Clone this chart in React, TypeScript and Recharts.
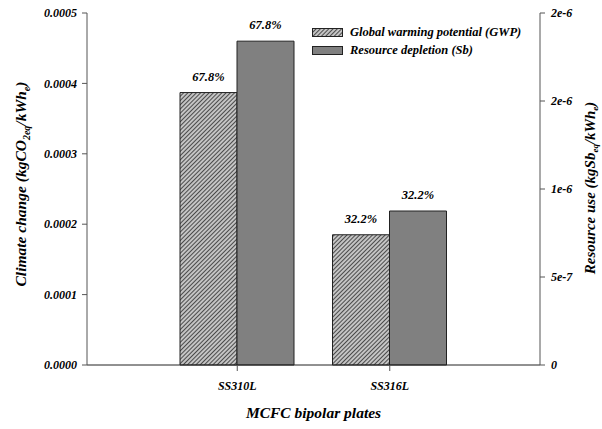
import { Bar, BarChart, LabelList, XAxis, YAxis } from "recharts";

const plates = ["SS310L", "SS316L"];
const gwpValues = [0.000387, 0.000185];
const sbValues = [1.84e-6, 8.75e-7];
const gwpShare = ["67.8%", "32.2%"];
const sbShare = ["67.8%", "32.2%"];
const leftTicks = [0, 0.0001, 0.0002, 0.0003, 0.0004, 0.0005];
const rightTicks = [0, 5e-7, 1e-6, 1.5e-6, 2e-6];
const rightTickLabels = ["0", "5e-7", "1e-6", "2e-6", "2e-6"];

const data = plates.map((plate, i) => ({
  plate,
  gwp: gwpValues[i],
  sb: sbValues[i],
  gwpShare: gwpShare[i],
  sbShare: sbShare[i],
}));

const font = "'Liberation Serif', 'DejaVu Serif', serif";
const tickStyle = {
  fill: "#000",
  fontFamily: font,
  fontWeight: 700,
  fontStyle: "italic" as const,
  fontSize: 12,
};
const axisColor = "#555";

function LegendBox() {
  const row = { display: "flex", alignItems: "center", height: 17.5 };
  const text = {
    fontFamily: font,
    fontWeight: 700,
    fontStyle: "italic" as const,
    fontSize: 12.5,
    marginLeft: 7,
    color: "#000",
    whiteSpace: "nowrap" as const,
  };
  return (
    <div style={{ position: "absolute", left: 312, top: 24 }}>
      <div style={row}>
        <svg width={31} height={9}>
          <rect x={0.5} y={0.5} width={30} height={8} fill="url(#gwp-hatch)" stroke="#222" />
        </svg>
        <span style={text}>Global warming potential (GWP)</span>
      </div>
      <div style={row}>
        <svg width={31} height={9}>
          <rect x={0.5} y={0.5} width={30} height={8} fill="#808080" stroke="#222" />
        </svg>
        <span style={text}>Resource depletion (Sb)</span>
      </div>
    </div>
  );
}

const labelText = {
  fontFamily: font,
  fontWeight: 700,
  fontStyle: "italic" as const,
  fontSize: 15.5,
  fill: "#000",
};

export default function App() {
  return (
    <div style={{ position: "absolute", left: 0, top: 0, width: 602, height: 429, background: "#fff" }}>
      <svg width={0} height={0} style={{ position: "absolute" }}>
        <defs>
          <pattern id="gwp-hatch" width={3} height={3} patternUnits="userSpaceOnUse" patternTransform="rotate(45)">
            <rect width={3} height={3} fill="#c4c4c4" />
            <line x1={0} y1={0} x2={0} y2={3} stroke="#222" strokeWidth={1.5} />
          </pattern>
        </defs>
      </svg>
      <BarChart
        width={602}
        height={429}
        data={data}
        barGap={0}
        barSize={57}
        margin={{ top: 13, right: 2, left: 0, bottom: 0 }}
      >
        <XAxis
          dataKey="plate"
          height={64}
          padding={{ left: 74, right: 74 }}
          tickSize={6}
          tickMargin={10}
          stroke={axisColor}
          axisLine={{ stroke: "#222" }}
          tick={tickStyle}
          label={({ viewBox }: any) => (
            <text x={viewBox.x + viewBox.width / 2} y={418} textAnchor="middle" style={labelText}>
              MCFC bipolar plates
            </text>
          )}
        />
        <XAxis
          xAxisId="top"
          dataKey="plate"
          orientation="top"
          height={0}
          tick={false}
          tickLine={false}
          stroke={axisColor}
        />
        <YAxis
          yAxisId="left"
          width={87}
          domain={[0, 0.0005]}
          ticks={leftTicks}
          interval={0}
          tickSize={5}
          tickMargin={5}
          stroke={axisColor}
          tick={tickStyle}
          tickFormatter={(v: number) => v.toFixed(4)}
          label={({ viewBox }: any) => {
            const cx = 26;
            const cy = viewBox.y + viewBox.height / 2 - 5;
            return (
              <text x={cx} y={cy} transform={`rotate(-90 ${cx} ${cy})`} textAnchor="middle" style={labelText}>
                Climate change (kgCO
                <tspan fontSize={10} dy={4}>2eq</tspan>
                <tspan dy={-4}>/kWh</tspan>
                <tspan fontSize={10} dy={4}>e</tspan>
                <tspan dy={-4}>)</tspan>
              </text>
            );
          }}
        />
        <YAxis
          yAxisId="right"
          orientation="right"
          width={60}
          domain={[0, 2e-6]}
          ticks={rightTicks}
          interval={0}
          tickSize={5}
          tickMargin={6}
          stroke={axisColor}
          tick={tickStyle}
          tickFormatter={(_v: number, i: number) => rightTickLabels[i]}
          label={({ viewBox }: any) => {
            const cx = 595;
            const cy = viewBox.y + viewBox.height / 2 - 1;
            return (
              <text x={cx} y={cy} transform={`rotate(-90 ${cx} ${cy})`} textAnchor="middle" style={{ ...labelText, fontSize: 15 }}>
                Resource use (kgSb
                <tspan fontSize={9} dy={3}>eq</tspan>
                <tspan dy={-3}>/kWh</tspan>
                <tspan fontSize={9} dy={3}>e</tspan>
                <tspan dy={-3}>)</tspan>
              </text>
            );
          }}
        />
        <Bar dataKey="gwp" yAxisId="left" fill="url(#gwp-hatch)" stroke="#222" isAnimationActive={false}>
          <LabelList dataKey="gwpShare" position="top" offset={12} style={{ ...tickStyle, fontSize: 12.5 }} />
        </Bar>
        <Bar dataKey="sb" yAxisId="right" fill="#808080" stroke="#222" isAnimationActive={false}>
          <LabelList dataKey="sbShare" position="top" offset={12} style={{ ...tickStyle, fontSize: 12.5 }} />
        </Bar>
      </BarChart>
      <LegendBox />
    </div>
  );
}
